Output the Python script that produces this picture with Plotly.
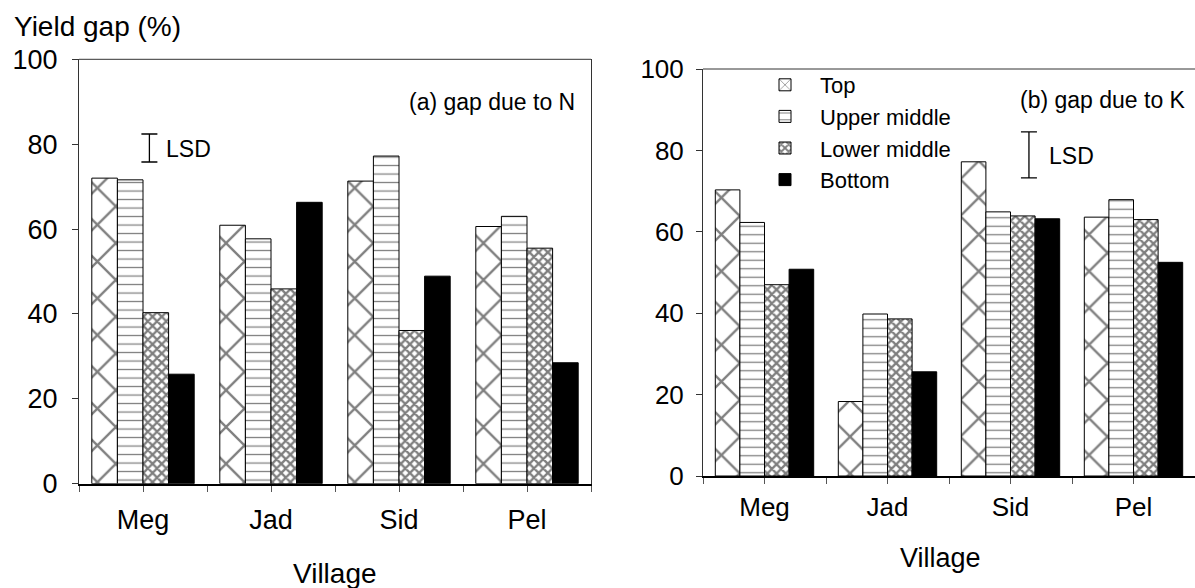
import plotly.graph_objects as go

# Yield gap (%) per village and toposequence position
villages = ["Meg", "Jad", "Sid", "Pel"]
positions = ["Top", "Upper middle", "Lower middle", "Bottom"]

gap_n_top = [72.0, 60.9, 71.3, 60.6]
gap_n_upper = [71.6, 57.7, 77.2, 63.0]
gap_n_lower = [40.3, 45.9, 36.1, 55.5]
gap_n_bottom = [25.8, 66.3, 48.9, 28.5]

gap_k_top = [70.3, 18.3, 77.2, 63.6]
gap_k_upper = [62.3, 39.8, 64.9, 67.9]
gap_k_lower = [47.0, 38.6, 63.9, 63.0]
gap_k_bottom = [50.8, 25.6, 63.2, 52.5]

# LSD bars: (x position in category units, centre, full LSD)
lsd_n = (0.05, 79.1, 6.6)
lsd_k = (2.15, 78.9, 11.3)

y_ticks = [0, 20, 40, 60, 80, 100]
FONT = "Liberation Sans, Arial, sans-serif"

W, H = 1195, 588

styles = {
    "Top": dict(color="white", pattern=dict(shape="x", size=26, solidity=0.17,
                                           fgcolor="black", bgcolor="white")),
    "Upper middle": dict(color="white", pattern=dict(shape="-", size=8.5, solidity=0.15,
                                                    fgcolor="black", bgcolor="white")),
    "Lower middle": dict(color="white", pattern=dict(shape="x", size=6.5, solidity=0.6,
                                                    fgcolor="black", bgcolor="white")),
    "Bottom": dict(color="black"),
}

x_idx = list(range(len(villages)))

fig = go.Figure()

panels = [
    ("x", "y", [gap_n_top, gap_n_upper, gap_n_lower, gap_n_bottom], False),
    ("x2", "y2", [gap_k_top, gap_k_upper, gap_k_lower, gap_k_bottom], True),
]
for xa, ya, series, show in panels:
    for name, vals in zip(positions, series):
        st = styles[name]
        fig.add_trace(go.Bar(
            x=x_idx, y=vals, name=name, xaxis=xa, yaxis=ya,
            legendgroup=name, showlegend=show,
            marker=dict(color=st["color"], pattern=st.get("pattern"),
                        line=dict(color="black", width=1)),
        ))

for (lx, lc, lsd), xa, ya in [(lsd_n, "x", "y"), (lsd_k, "x2", "y2")]:
    fig.add_trace(go.Scatter(
        x=[lx], y=[lc], xaxis=xa, yaxis=ya, mode="markers",
        marker=dict(size=1, color="rgba(0,0,0,0)"), showlegend=False,
        error_y=dict(type="constant", value=lsd / 2, color="black",
                     thickness=1.3, width=8),
    ))

# Panel boxes in page pixels (zero margins, so paper == page)
ax_a = dict(x0=79, x1=591, ytop=59.3, ybot=483.7)
ax_b = dict(x0=703, x1=1195, ytop=69, ybot=476)


def px(v):
    return v / W


def py(v):
    return 1 - v / H


tickvals_x = [i * 0.5 - 0.5 for i in range(9)]
ticktext_x = ["" if i % 2 == 0 else villages[i // 2] for i in range(9)]

for ax, xk, yk, fs, xst, yst in [(ax_a, "xaxis", "yaxis", 27, 5, 9),
                                 (ax_b, "xaxis2", "yaxis2", 26, 1, 7)]:
    fig.layout[xk] = dict(
        domain=[px(ax["x0"]), px(ax["x1"])], range=[-0.5, 3.5],
        tickvals=tickvals_x, ticktext=ticktext_x, ticks="outside", ticklen=6,
        tickcolor="#555", tickwidth=1, showline=True, linecolor="black", linewidth=2,
        showgrid=False, zeroline=False, fixedrange=True, automargin=False,
        tickfont=dict(family=FONT, size=fs, color="black"),
        ticklabelstandoff=xst, layer="above traces",
        anchor=yk.replace("axis", ""),
    )
    fig.layout[yk] = dict(
        domain=[py(ax["ybot"]), py(ax["ytop"])], range=[0, 100],
        tickvals=y_ticks, ticks="outside", ticklen=6, tickcolor="#333",
        showline=True, linecolor="#333", linewidth=1, mirror=True,
        showgrid=False, zeroline=False, fixedrange=True, automargin=False,
        tickfont=dict(family=FONT, size=fs, color="black"),
        ticklabelstandoff=yst,
        anchor=xk.replace("axis", ""),
    )
    # thin top frame line
    fig.add_shape(type="line", xref=f"{xk.replace('axis', '')} domain",
                  yref=f"{yk.replace('axis', '')} domain",
                  x0=0, x1=1, y0=1, y1=1, line=dict(color="#333", width=1))


def label(text, x, y, size, anchor="center"):
    fig.add_annotation(text=text, x=px(x), y=py(y), xref="paper", yref="paper",
                       xanchor=anchor, yanchor="middle", showarrow=False,
                       font=dict(family=FONT, color="black", size=size))


label("Yield gap (%)", 12, 27, 28, "left")
label("Village", 335, 573, 28)
label("Village", 940, 558, 27)
label("(a) gap due to N", 577, 102, 23, "right")
label("(b) gap due to K", 1188, 100, 23, "right")
label("LSD", 164, 149, 23, "left")
label("LSD", 1047, 156, 23, "left")

fig.update_layout(
    width=W, height=H, margin=dict(l=0, r=0, t=0, b=0, autoexpand=False),
    paper_bgcolor="white", plot_bgcolor="white",
    barmode="group", bargap=0.2, bargroupgap=0,
    font=dict(family=FONT, color="black"),
    legend=dict(x=px(750), y=py(64), xanchor="left", yanchor="top",
                font=dict(family=FONT, size=22, color="black"),
                bgcolor="rgba(0,0,0,0)", tracegroupgap=0, itemwidth=60),
)

fig.write_html("out.html")
